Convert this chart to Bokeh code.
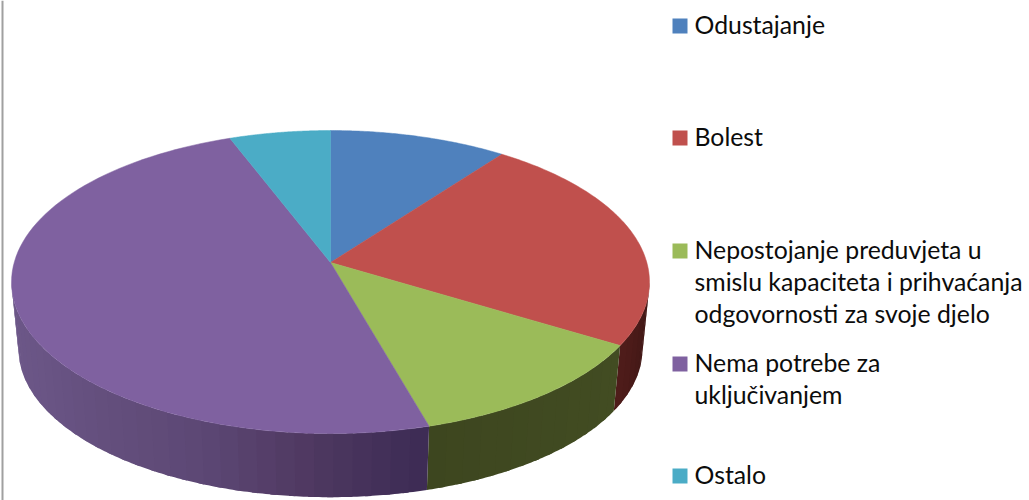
import numpy as np
from bokeh.embed import file_html
from bokeh.resources import INLINE
from bokeh.plotting import figure
from bokeh.models import ColumnDataSource, Range1d
from bokeh.core.properties import value

# --- data ---
categories = ["Odustajanje", "Bolest",
              "Nepostojanje preduvjeta u smislu kapaciteta i prihvaćanja odgovornosti za svoje djelo",
              "Nema potrebe za uključivanjem", "Ostalo"]
shares = [10.2, 23.5, 11.9, 48.6, 5.8]
legend_lines = [["Odustajanje"], ["Bolest"],
                ["Nepostojanje preduvjeta u", "smislu kapaciteta i prihvaćanja", "odgovornosti za svoje djelo"],
                ["Nema potrebe za", "uključivanjem"], ["Ostalo"]]
colors = ["#4f81bd", "#c0504d", "#9bbb59", "#7f61a0", "#4bacc6"]

# --- layout ---
W, H = 1029, 500
VX, VY = 330, 262          # vertex of the pie top
A, B, K = 316.3, 149.0, 0.129   # perspective projection of the disc
BOT_SCALE, BOT_VX, BOT_VY = 0.978, 330, 329.4
VIS_START, VIS_END = 97.4, 262.6  # visible part of the wall, degrees clockwise from top
LEG_SQ_X, LEG_TX, LEG_SZ = 672, 694, 15
LEG_SQ_Y = [25.5, 137.5, 250.5, 363.5, 475.5]
LINE_H = 32.4
TEXT_DY = -2
FONT = "Lato"
FONT_SIZE = "24.8px"
BAND_DEG = 3.0
WALL_STOPS = {
    1: ([612, 650], [(84, 30, 28), (66, 24, 22)]),
    2: ([428, 620], [(61, 70, 31), (66, 76, 34)]),
    3: ([12, 100, 200, 300, 345, 428],
        [(108, 87, 136), (100, 79, 125), (92, 71, 116), (80, 57, 98), (72, 52, 92), (60, 43, 84)]),
}


def top_pt(deg):
    t = np.radians(deg)
    d = 1 + K * np.cos(t)
    return VX + A * np.sin(t) / d, VY - B * np.cos(t) / d


def bot_pt(deg):
    t = np.radians(deg)
    d = 1 + K * np.cos(t)
    return BOT_VX + BOT_SCALE * A * np.sin(t) / d, BOT_VY - BOT_SCALE * B * np.cos(t) / d


def wall_color(i, x):
    xs, cs = WALL_STOPS[i]
    rgb = [int(round(np.interp(x, xs, [c[k] for c in cs]))) for k in range(3)]
    return "#%02x%02x%02x" % tuple(rgb)


edges = np.concatenate([[0], np.cumsum(shares)]) / np.sum(shares) * 360

p = figure(width=W, height=H, output_backend="svg", toolbar_location=None,
           x_range=Range1d(0, W), y_range=Range1d(H, 0), min_border=0,
           outline_line_color=None, background_fill_color="white")
p.xaxis.visible = False
p.yaxis.visible = False
p.grid.visible = False

# frame line at the left edge
p.segment(x0=[2], y0=[0], x1=[2], y1=[H], line_color="#a0a0a0", line_width=2)

# walls: bands drawn in order, each overlapping the next
wx, wy, wc = [], [], []
for i in range(len(shares)):
    a0, a1 = max(edges[i], VIS_START), min(edges[i + 1], VIS_END)
    if a1 <= a0:
        continue
    n = max(1, int((a1 - a0) / BAND_DEG))
    th = np.linspace(a0, a1, n + 1)
    for s, e in zip(th[:-1], th[1:]):
        arc = np.linspace(s, min(e + 1.0, a1), 8)
        tx_, ty_ = top_pt(arc)
        bx_, by_ = bot_pt(arc)
        wx.append(np.concatenate([tx_, bx_[::-1]]).tolist())
        wy.append(np.concatenate([ty_, by_[::-1]]).tolist())
        wc.append(wall_color(i, float(tx_.mean())))
p.patches("x", "y", source=ColumnDataSource(dict(x=wx, y=wy, c=wc)),
          fill_color="c", line_color=None)

# top of the pie
sx, sy = [], []
for i in range(len(shares)):
    th = np.linspace(edges[i], edges[i + 1], 90)
    px, py = top_pt(th)
    sx.append(np.concatenate([[VX], px]).tolist())
    sy.append(np.concatenate([[VY], py]).tolist())
p.patches("x", "y", source=ColumnDataSource(dict(x=sx, y=sy, c=colors)),
          fill_color="c", line_color="c", line_width=0.5)

# legend
p.rect(x=[LEG_SQ_X + LEG_SZ / 2] * 5, y=LEG_SQ_Y, width=LEG_SZ, height=LEG_SZ,
       fill_color=colors, line_color=None)
tx, ty, tt = [], [], []
for y0, lines in zip(LEG_SQ_Y, legend_lines):
    for j, line in enumerate(lines):
        tx.append(LEG_TX)
        ty.append(y0 + j * LINE_H + TEXT_DY)
        tt.append(line)
p.text(x="x", y="y", text="t", source=ColumnDataSource(dict(x=tx, y=ty, t=tt)),
       text_font=value(FONT), text_font_size=value(FONT_SIZE), text_color="#0c0c0c",
       text_align="left", text_baseline="middle")

open("out.html", "w").write(file_html(p, INLINE))
